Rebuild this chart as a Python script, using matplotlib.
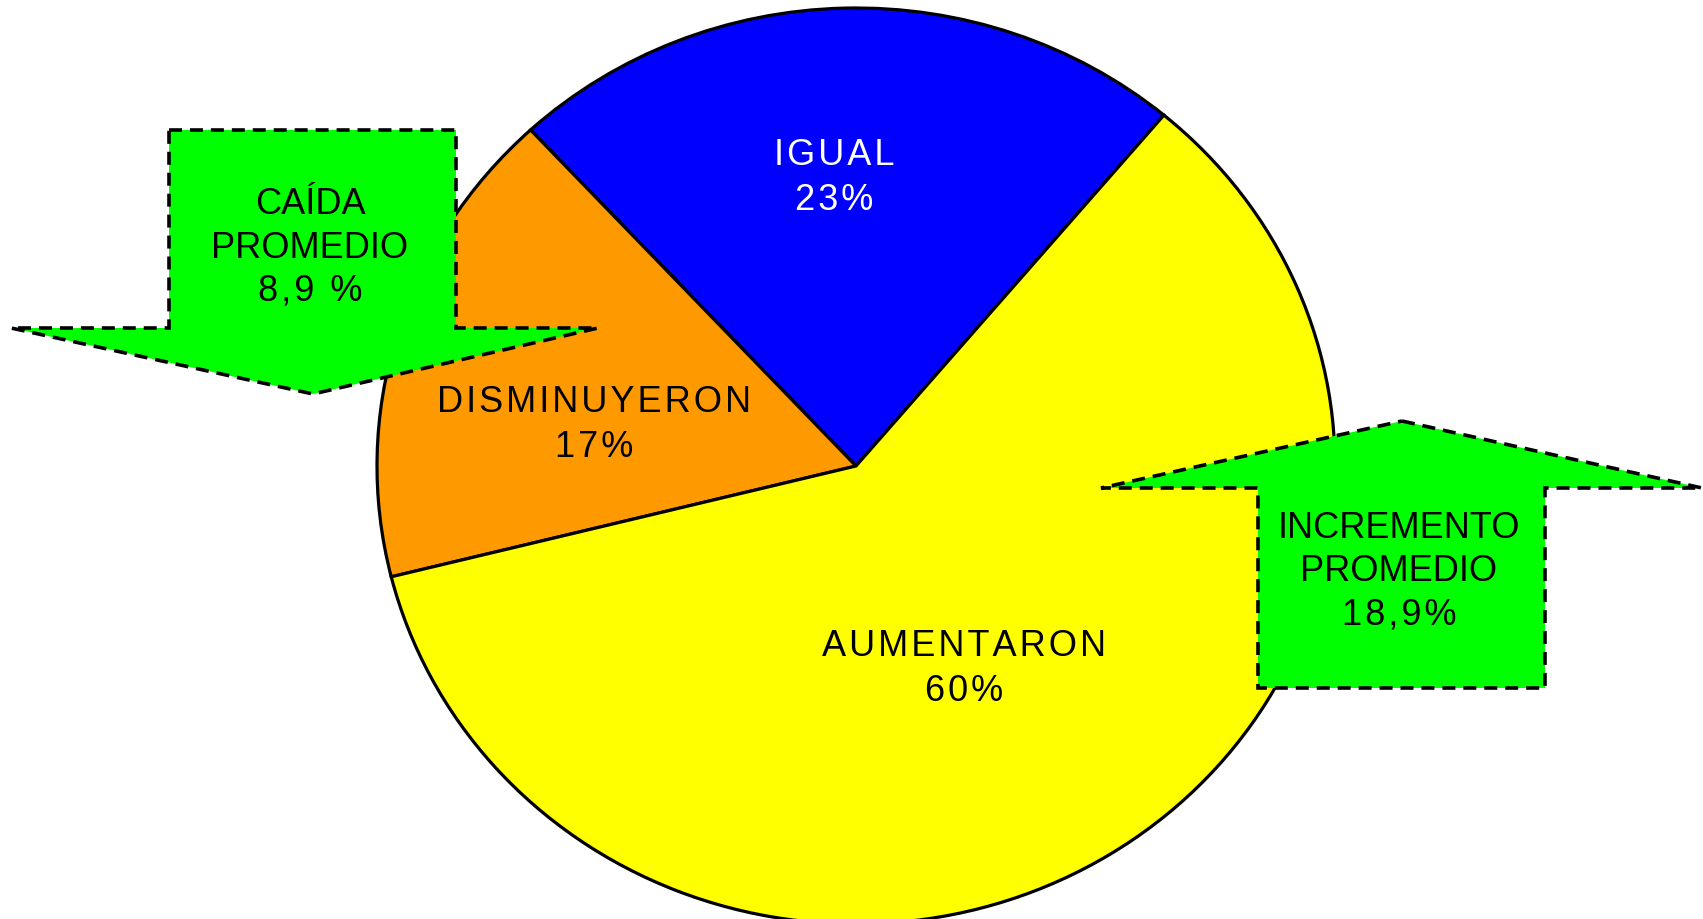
import matplotlib.pyplot as plt
from matplotlib.patches import Polygon

# slice data (counter-clockwise from the upper right)
categories = ["IGUAL", "DISMINUYERON", "AUMENTARON"]
shares = [23, 17, 60]
slice_colors = ["#0000FF", "#FF9900", "#FFFF00"]
label_colors = ["white", "black", "black"]

# notes on the arrows
drop_lines = ["CAÍDA", "PROMEDIO", "8,9 %"]
rise_lines = ["INCREMENTO", "PROMEDIO", "18,9%"]

plt.rcParams["font.family"] = ["Liberation Sans", "DejaVu Sans"]


def spaced(s):
    # the original uses a little extra letter spacing
    return "\u200a".join(s)


W, H = 1703, 920
fig = plt.figure(figsize=(W / 100, H / 100), dpi=100)

# pie is an ellipse: centre (856, 467) px, radii 479 x 458 px
cx, cy, rx, ry = 856, 467, 479, 458
ax = fig.add_axes([(cx - rx) / W, (H - cy - ry) / H, 2 * rx / W, 2 * ry / H])
wedges, _ = ax.pie(shares, colors=slice_colors, startangle=50, counterclock=True,
                   wedgeprops=dict(edgecolor="black", linewidth=2.3))
ax.set_aspect("auto")
ax.set_xlim(-1, 1)
ax.set_ylim(-1, 1)
ax.axis("off")

# label positions in pixels
label_pos = [(834, 178), (594, 425), (964, 669)]
for name, val, col, (px, py) in zip(categories, shares, label_colors, label_pos):
    ax.text((px - cx) / rx, (cy - py) / ry, spaced(name) + "\n" + spaced(f"{val}%"),
            color=col, ha="center", va="center", fontsize=26, linespacing=1.36)

# overlay for the arrows in pixel coords
ov = fig.add_axes([0, 0, 1, 1])
ov.set_xlim(0, W)
ov.set_ylim(H, 0)
ov.axis("off")

dash = (0, (3.6, 2.2))
down_arrow = [(169, 131), (456, 131), (456, 329), (598, 329), (313, 395), (11, 329), (169, 329)]
up_arrow = [(1402, 422), (1702, 489), (1545, 489), (1545, 689), (1258, 689), (1258, 489), (1101, 489)]
for pts in (down_arrow, up_arrow):
    ov.add_patch(Polygon(pts, closed=True, facecolor="#00FF00", edgecolor="black",
                         linewidth=2.6, linestyle=dash, joinstyle="miter"))

for lines, (px, py) in ((drop_lines, (310, 248)), (rise_lines, (1399, 572))):
    txt = "\n".join(lines[:2] + [spaced(lines[2])])
    ov.text(px, py, txt, ha="center", va="center", fontsize=26, linespacing=1.3)

fig.savefig("out.png", dpi=100)
